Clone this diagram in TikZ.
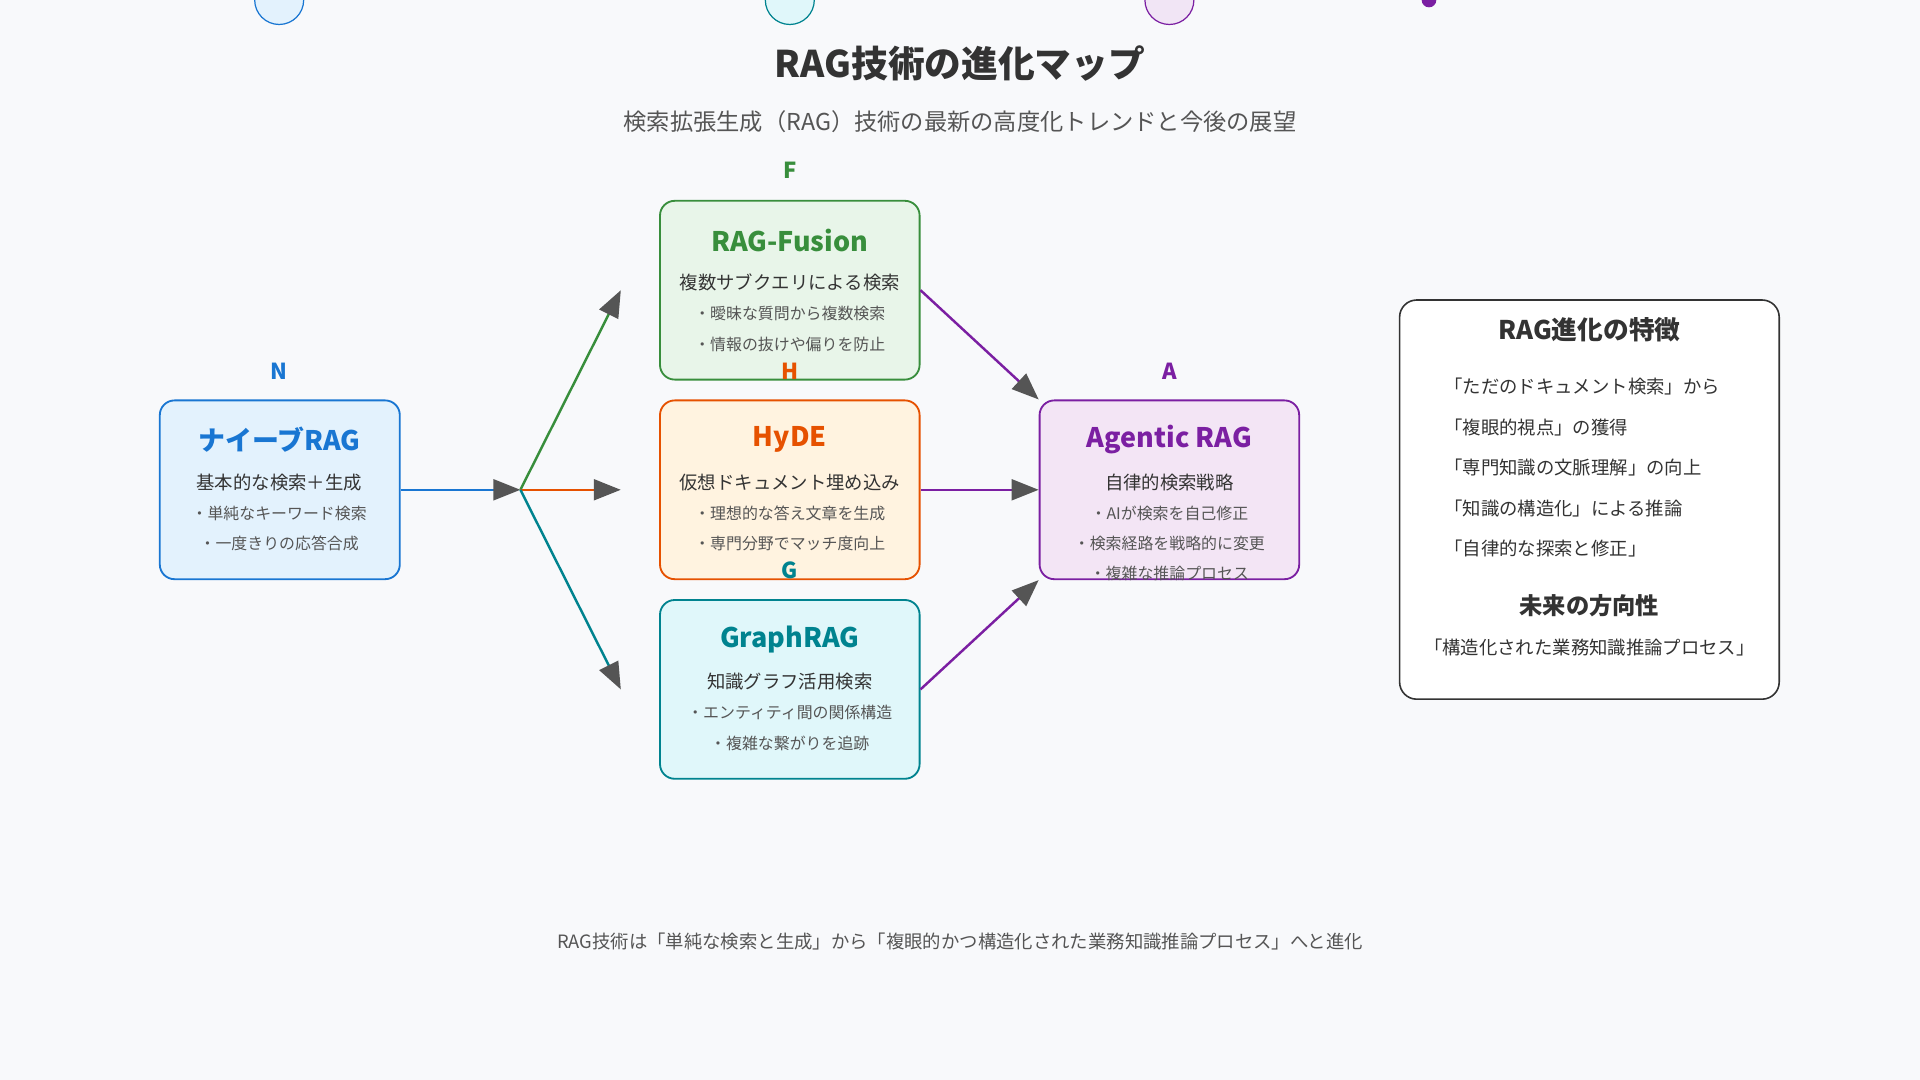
\documentclass[tikz,border=0pt]{standalone}
\usepackage{fontspec}
\setmainfont{Noto Sans CJK JP}
\usetikzlibrary{arrows.meta}
\definecolor{bg}{HTML}{F8F9FB}
\definecolor{ink}{HTML}{333333}
\definecolor{soft}{HTML}{555555}
\definecolor{tip}{HTML}{555555}
\definecolor{nblue}{HTML}{1976D2}\definecolor{nbluef}{HTML}{E3F2FD}
\definecolor{fgreen}{HTML}{388E3C}\definecolor{fgreenf}{HTML}{E8F5E9}
\definecolor{horange}{HTML}{E65100}\definecolor{horangef}{HTML}{FFF3E0}
\definecolor{gteal}{HTML}{00838F}\definecolor{gtealf}{HTML}{E0F7FA}
\definecolor{apurple}{HTML}{7B1FA2}\definecolor{apurplef}{HTML}{F3E5F5}
\tikzset{
  card/.style={draw=#1,fill=#1f,line width=1.5pt,rounded corners=12pt,minimum width=212pt,minimum height=146pt},
  cardtitle/.style={text=#1,font=\fontsize{22}{24}\selectfont\bfseries},
  cardsub/.style={text=ink,font=\fontsize{15}{17}\selectfont},
  cardbullet/.style={text=soft,font=\fontsize{13}{15}\selectfont},
  tag/.style={text=#1,font=\fontsize{18}{20}\selectfont\bfseries},
  flow/.style={draw=#1,line width=2pt,-{Triangle[length=22pt,width=17pt,color=tip]}},
}
\begin{document}
\begin{tikzpicture}[x=1pt,y=-1pt]
\useasboundingbox (0,0) rectangle (1568,882);
\fill[bg] (0,0) rectangle (1568,882);
% top dots
\draw[nblue,fill=nbluef,line width=1pt] (228,0) circle (20);
\draw[gteal,fill=gtealf,line width=1pt] (645,0) circle (20);
\draw[apurple,fill=apurplef!70!apurple!30,line width=1pt] (955,0) circle (20);
\fill[apurple] (1167,0) circle (6);
% heading
\node[text=ink,font=\fontsize{30}{32}\selectfont\bfseries] (title) at (784,52) {RAG技術の進化マップ};
\node[text=soft,font=\fontsize{19}{21}\selectfont] (subtitle) at (784,99) {検索拡張生成（RAG）技術の最新の高度化トレンドと今後の展望};

% naive
\node[card=nblue,minimum width=196pt] (naive) at (228.5,400) {};
\node[tag=nblue] (tagN) at (228,303) {N};
\node[cardtitle=nblue] at (228,359) {ナイーブRAG};
\node[cardsub] at (228,394) {基本的な検索＋生成};
\node[cardbullet] at (228,419) {・単純なキーワード検索};
\node[cardbullet] at (228,444) {・一度きりの応答合成};

% fusion
\node[card=fgreen] (fusion) at (645,237) {};
\node[tag=fgreen] (tagF) at (645,139) {F};
\node[cardtitle=fgreen] at (645,196) {RAG-Fusion};
\node[cardsub] at (645,231) {複数サブクエリによる検索};
\node[cardbullet] at (645,256) {・曖昧な質問から複数検索};
\node[cardbullet] at (645,281) {・情報の抜けや偏りを防止};

% hyde
\node[card=horange] (hyde) at (645,400) {};
\node[cardtitle=horange] at (645,359) {HyDE};
\node[cardsub] at (645,394) {仮想ドキュメント埋め込み};
\node[cardbullet] at (645,419) {・理想的な答え文章を生成};
\node[cardbullet] at (645,444) {・専門分野でマッチ度向上};

% graph
\node[card=gteal] (graph) at (645,563) {};
\node[cardtitle=gteal] at (645,522) {GraphRAG};
\node[cardsub] at (645,557) {知識グラフ活用検索};
\node[cardbullet] at (645,582) {・エンティティ間の関係構造};
\node[cardbullet] at (645,607) {・複雑な繋がりを追跡};

% agentic
\node[card=apurple] (agentic) at (955,400) {};
\node[tag=apurple] (tagA) at (955,303) {A};
\node[cardtitle=apurple] at (955,359) {Agentic RAG};
\node[cardsub] at (955,394) {自律的検索戦略};
\node[cardbullet] at (955,419) {・AIが検索を自己修正};
\node[cardbullet] at (955,444) {・検索経路を戦略的に変更};
\node[cardbullet] at (955,468) {・複雑な推論プロセス};

% labels on top of boxes
\node[tag=horange] (tagH) at (645,303) {H};
\node[tag=gteal] (tagG) at (645,466) {G};

% connectors
\coordinate (hub) at (425,400);
\coordinate (toF) at (507,237);
\coordinate (toH) at (507,400);
\coordinate (toG) at (507,563);
\draw[flow=nblue] (naive.east) -- (hub);
\draw[flow=fgreen] (hub) -- (toF);
\draw[flow=horange] (hub) -- (toH);
\draw[flow=gteal] (hub) -- (toG);
\draw[flow=apurple] (fusion.east) -- (agentic.north west);
\draw[flow=apurple] (hyde.east) -- (agentic.west);
\draw[flow=apurple] (graph.east) -- (agentic.south west);

% summary panel
\node[draw=ink,fill=white,line width=1.3pt,rounded corners=14pt,minimum width=310pt,minimum height=326pt] (panel) at (1298,408) {};
\node[text=ink,font=\fontsize{21}{23}\selectfont\bfseries] at (1298,269) {RAG進化の特徴};
\foreach \t [count=\i] in {「ただのドキュメント検索」から,「複眼的視点」の獲得,「専門知識の文脈理解」の向上,「知識の構造化」による推論,「自律的な探索と修正」}
  \node[text=ink,font=\fontsize{15}{17}\selectfont,anchor=west] at (1176,283+33*\i) {\t};
\node[text=ink,font=\fontsize{19}{21}\selectfont\bfseries] at (1298,495) {未来の方向性};
\node[text=ink,font=\fontsize{15}{17}\selectfont] at (1298,529) {「構造化された業務知識推論プロセス」};

% footer
\node[text=soft,font=\fontsize{15}{17}\selectfont] (footer) at (784,769) {RAG技術は「単純な検索と生成」から「複眼的かつ構造化された業務知識推論プロセス」へと進化};
\end{tikzpicture}
\end{document}
